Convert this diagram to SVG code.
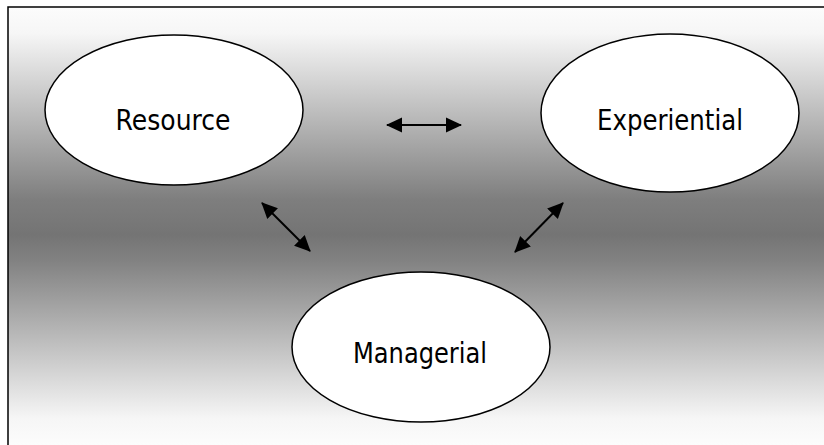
<svg xmlns="http://www.w3.org/2000/svg" width="824" height="445" viewBox="0 0 824 445">
<defs>
<linearGradient id="bg" x1="0" y1="7" x2="0" y2="445" gradientUnits="userSpaceOnUse">
<stop offset="0" stop-color="#fcfcfc"/>
<stop offset="0.06" stop-color="#f6f6f6"/>
<stop offset="0.44" stop-color="#7e7e7e"/>
<stop offset="0.52" stop-color="#747474"/>
<stop offset="0.58" stop-color="#828282"/>
<stop offset="0.94" stop-color="#f6f6f6"/>
<stop offset="1" stop-color="#fcfcfc"/>
</linearGradient>
<marker id="ah" markerUnits="userSpaceOnUse" markerWidth="16" markerHeight="16" viewBox="0 0 16 16" refX="15" refY="8" orient="auto-start-reverse">
<path d="M0,0.5 L16,8 L0,15.5 Z" fill="#000"/>
</marker>
<style>
.node ellipse{fill:#fff;stroke:#000;stroke-width:1.5}
.node text{font-family:"DejaVu Sans",Tahoma,sans-serif;font-size:28px;fill:#000;text-anchor:middle}
.conn line{stroke:#000;stroke-width:2;marker-start:url(#ah);marker-end:url(#ah)}
</style>
</defs>
<rect width="824" height="445" fill="#fff"/>
<rect x="8" y="7" width="840" height="460" fill="url(#bg)" stroke="#000" stroke-width="1.5"/>
<g id="resource" class="node">
<ellipse cx="174" cy="110" rx="129" ry="75"/>
<text x="173" y="130" textLength="115" lengthAdjust="spacingAndGlyphs">Resource</text>
</g>
<g id="experiential" class="node">
<ellipse cx="670" cy="113" rx="129" ry="79"/>
<text x="670" y="130" textLength="146" lengthAdjust="spacingAndGlyphs">Experiential</text>
</g>
<g id="managerial" class="node">
<ellipse cx="421" cy="347" rx="129" ry="75"/>
<text x="420" y="363" textLength="134" lengthAdjust="spacingAndGlyphs">Managerial</text>
</g>
<g id="connectors" class="conn">
<line x1="387" y1="125" x2="461" y2="125"/>
<line x1="262" y1="203" x2="310" y2="251"/>
<line x1="563" y1="203" x2="515" y2="252"/>
</g>
</svg>
